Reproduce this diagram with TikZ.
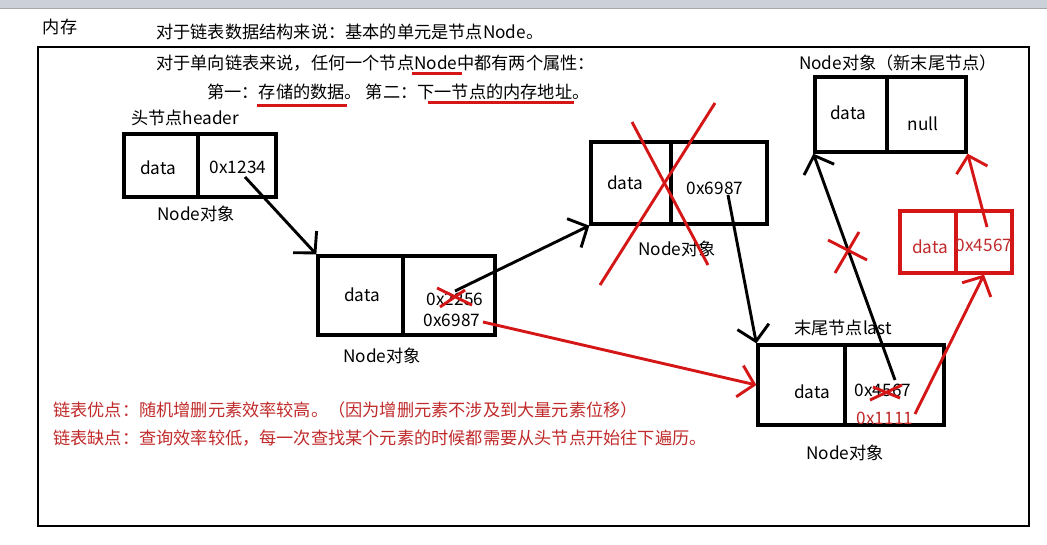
\documentclass[tikz,border=0pt]{standalone}
\usepackage{fontspec}
\setmainfont{Noto Sans CJK SC}
\usepackage{tikz}
\usetikzlibrary{arrows.meta,shapes}
\usetikzlibrary{calc}
\definecolor{linered}{RGB}{212,22,22}
\definecolor{textred}{RGB}{192,42,42}
\definecolor{barcolor}{RGB}{204,209,217}
\tikzstyle{cell}=[rectangle,draw,line width=3.3pt,inner sep=0pt]
\tikzstyle{redcell}=[cell,draw=linered]
\tikzstyle{txt}=[font=\fontsize{17.2}{20}\selectfont,inner sep=0pt]
\tikzstyle{redtxt}=[txt,text=textred]
\tikzstyle{edge} = [draw,line width=2.9pt,-{Straight Barb[length=15pt,width=32pt]}]
\tikzstyle{rededge} = [edge,draw=linered]
\tikzstyle{cross} = [draw=linered,line width=2.9pt]
\tikzstyle{underline} = [draw=linered,line width=3pt]

\begin{document}
\begin{tikzpicture}[x=1pt,y=-1pt]
    \useasboundingbox (0,0) rectangle (1047,544);
    \fill[barcolor] (0,0) rectangle (1047,8);
    \draw[black!35,line width=0.8pt] (0,8) -- (1047,8);
    \draw[line width=1.6pt] (38,47) rectangle (1029,526);

    % the node boxes, two cells each
    \foreach \pos/\w/\h/\name in {{(161,165.5)/74/63/h1}, {(237,165.5)/78/63/h2},
        {(360.5,295.5)/85/79/n1}, {(449,295.5)/92/79/n2},
        {(631,183)/80/82/d1}, {(719,183)/96/82/d2},
        {(851,114.5)/72/75/t1}, {(926.5,114.5)/79/75/t2},
        {(801.5,385)/87/80/l1}, {(894.5,385)/99/80/l2}}
        \node[cell,minimum width=\w,minimum height=\h] (\name) at \pos {};
    \foreach \pos/\w/\h/\name in {{(928,242)/56/62/r1}, {(984,242)/56/62/r2}}
        \node[redcell,minimum width=\w,minimum height=\h] (\name) at \pos {};

    % black texts
    \foreach \pos/\name/\txt in {{(60,27)/mem/内存}, {(158,168)/hdata/data}, {(238,167)/haddr/0x1234},
        {(196,214)/hobj/Node对象}, {(362,295)/ndata/data}, {(455,299)/nold/0x2256},
        {(452,320)/naddr/0x6987}, {(382,356)/nobj/Node对象}, {(625,183)/ddata/data},
        {(715,188)/daddr/0x6987}, {(677,249)/dobj/Node对象}, {(848,113)/tdata/data},
        {(923,124)/tnull/null}, {(898,63)/tobj/Node对象（新末尾节点）}, {(812,392)/ldata/data},
        {(883,390)/lold/0x4567}, {(843,328)/lname/末尾节点last}, {(845,453)/lobj/Node对象}}
        \node[txt] (\name) at \pos {\txt};
    \node[txt,anchor=west] (line1) at (156,32) {对于链表数据结构来说：基本的单元是节点Node。};
    \node[txt,anchor=west] (line2) at (156,63) {对于单向链表来说，任何一个节点Node中都有两个属性：};
    \node[txt,anchor=west] (line3) at (207,92) {第一：存储的数据。 第二：下一节点的内存地址。};
    \node[txt,anchor=west] (hname) at (131,118) {头节点header};

    % red texts
    \foreach \pos/\name/\txt in {{(930,247)/rdata/data}, {(984,245)/raddr/0x4567}, {(885,418)/lnew/0x1111}}
        \node[redtxt] (\name) at \pos {\txt};
    \node[redtxt,anchor=west] (pro) at (53,410) {链表优点：随机增删元素效率较高。（因为增删元素不涉及到大量元素位移）};
    \node[redtxt,anchor=west] (con) at (53,438) {链表缺点：查询效率较低，每一次查找某个元素的时候都需要从头节点开始往下遍历。};

    \path[underline] (412,73) -- (462,73);
    \path[underline] (257,105) -- (347,105);
    \path[underline] (428,102) -- (574,102);

    % pointers
    \coordinate (s1) at (245,177);
    \coordinate (s2) at (455,291);
    \coordinate (s3) at (728,195);
    \coordinate (s4) at (483,322);
    \coordinate (s5) at (895,380);
    \coordinate (s6) at (915,414);
    \coordinate (s7) at (987,227);
    \path[edge] (s1) -- (n1.north west);
    \path[edge] (s2) -- (d1.south west);
    \path[edge] (s3) -- (l1.north west);
    \path[edge] (s5) -- (t1.south west);
    \path[rededge] (s4) -- (l1.west);
    \path[rededge] (s6) -- (r2.south);
    \path[rededge] (s7) -- (t2.south east);

    % crossed out
    \path[cross] (600,285) -- (715,103);
    \path[cross] (632,122) -- (708,265);
    \path[cross] (437,288) -- (472,305);
    \path[cross] (440,307) -- (465,290);
    \path[cross] (870,400) -- (902,385);
    \path[cross] (873,387) -- (900,398);
    \path[cross] (828,240) -- (867,260);
    \path[cross] (835,273) -- (859,232);
\end{tikzpicture}
\end{document}
